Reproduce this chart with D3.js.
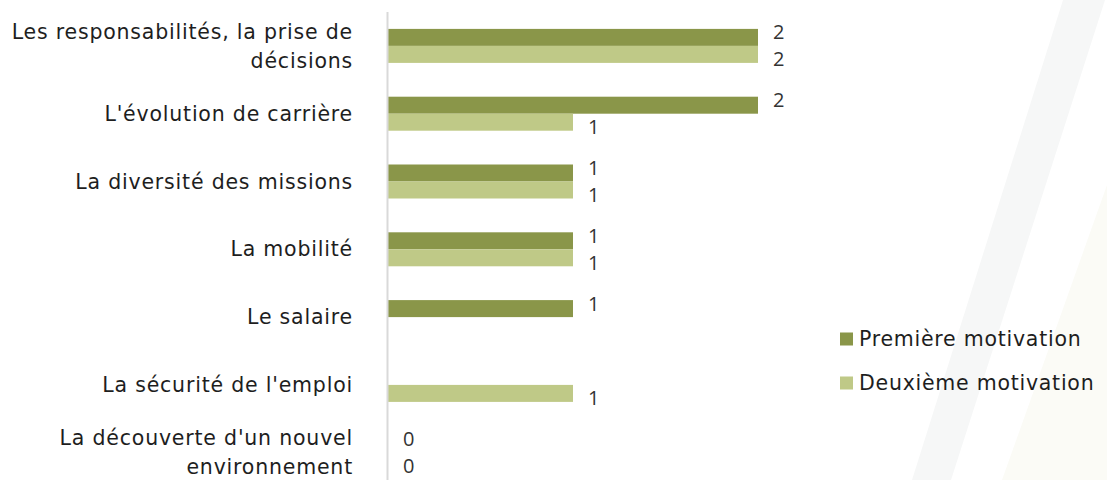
<!DOCTYPE html>
<html>
<head>
<meta charset="utf-8">
<script src="https://cdn.jsdelivr.net/npm/d3@7"></script>
<style>
  html, body { margin: 0; padding: 0; background: #fff; }
  svg { display: block; }
</style>
</head>
<body>
<svg id="chart" width="1107" height="480"></svg>
<script>
"use strict";

// categories, top to bottom ("\n" = line break in the label)
var categories = [
	"Les responsabilités, la prise de\ndécisions",
	"L'évolution de carrière",
	"La diversité des missions",
	"La mobilité",
	"Le salaire",
	"La sécurité de l'emploi",
	"La découverte d'un nouvel\nenvironnement"
];
var seriesNames = ["Première motivation", "Deuxième motivation"];
var premiere = [2, 2, 1, 1, 1, null, 0];
var deuxieme = [2, 1, 1, 1, null, 1, 0];
var colors = ["#8a9649", "#bfc987"];

var W = 1107, H = 480;
var labelFont = "'DejaVu Sans', sans-serif";
var svg = d3.select("#chart");

// faint diagonal stripes in the background
svg.append("polygon")
	.attr("points", "1063,0 1105,0 951,480 912,480")
	.attr("fill", "#f6f7f7");
svg.append("polygon")
	.attr("points", "1107,185 1107,480 1002,480")
	.attr("fill", "#fbfbf6");

var x0 = 388;
var x = d3.scaleLinear().domain([0, 2]).range([x0, 758]);
var y = d3.scaleBand().domain(categories).range([12, 486.6]).paddingInner(0).paddingOuter(0);
var ySub = d3.scaleBand().domain([0, 1]).range([0, 34]);
var bandPad = (y.bandwidth() - 34) / 2;

var rows = [];
categories.forEach(function(c, i){
	[premiere[i], deuxieme[i]].forEach(function(v, s){
		if (v !== null) rows.push({cat: c, s: s, v: v});
	});
});

// bars
svg.append("g").selectAll("rect")
	.data(rows)
  .enter().append("rect")
	.attr("x", x0)
	.attr("y", function(d){ return y(d.cat) + bandPad + ySub(d.s); })
	.attr("width", function(d){ return x(d.v) - x0; })
	.attr("height", ySub.bandwidth())
	.attr("fill", function(d){ return colors[d.s]; });

// vertical axis line
svg.append("line")
	.attr("x1", x0 - 0.5).attr("x2", x0 - 0.5)
	.attr("y1", 12).attr("y2", H)
	.attr("stroke", "#d9d9d9")
	.attr("stroke-width", 2);

// value labels
svg.append("g").selectAll("text")
	.data(rows)
  .enter().append("text")
	.attr("x", function(d){ return x(d.v) + 15; })
	.attr("y", function(d){
		return y(d.cat) + bandPad + ySub(d.s) + ySub.bandwidth() / 2 + (d.s === 0 ? -5 : 5);
	})
	.attr("dy", "0.35em")
	.attr("font-family", "'Open Sans', sans-serif")
	.attr("font-size", 20)
	.attr("fill", "#333")
	.text(function(d){ return d.v; });

// category labels
var lab = svg.append("g").selectAll("text")
	.data(categories)
  .enter().append("text")
	.attr("text-anchor", "end")
	.attr("font-family", labelFont)
	.attr("font-size", 20.5)
	.attr("letter-spacing", 0.8)
	.attr("fill", "#1e1e1e");
lab.each(function(c){
	var lines = c.split("\n");
	var t = d3.select(this);
	var cy = y(c) + y.bandwidth() / 2;
	lines.forEach(function(l, k){
		t.append("tspan")
			.attr("x", 353)
			.attr("y", cy + (k - (lines.length - 1) / 2) * 29)
			.attr("dy", "0.35em")
			.text(l);
	});
});

// legend
var leg = svg.append("g").selectAll("g")
	.data(seriesNames)
  .enter().append("g")
	.attr("transform", function(d, i){ return "translate(840," + (339 + i * 44) + ")"; });
leg.append("rect")
	.attr("x", 0).attr("y", -6.5)
	.attr("width", 13).attr("height", 13)
	.attr("fill", function(d, i){ return colors[i]; });
leg.append("text")
	.attr("x", 19)
	.attr("dy", "0.35em")
	.attr("font-family", labelFont)
	.attr("font-size", 20.5)
	.attr("letter-spacing", 0.75)
	.attr("fill", "#1e1e1e")
	.text(function(d){ return d; });
</script>
</body>
</html>
